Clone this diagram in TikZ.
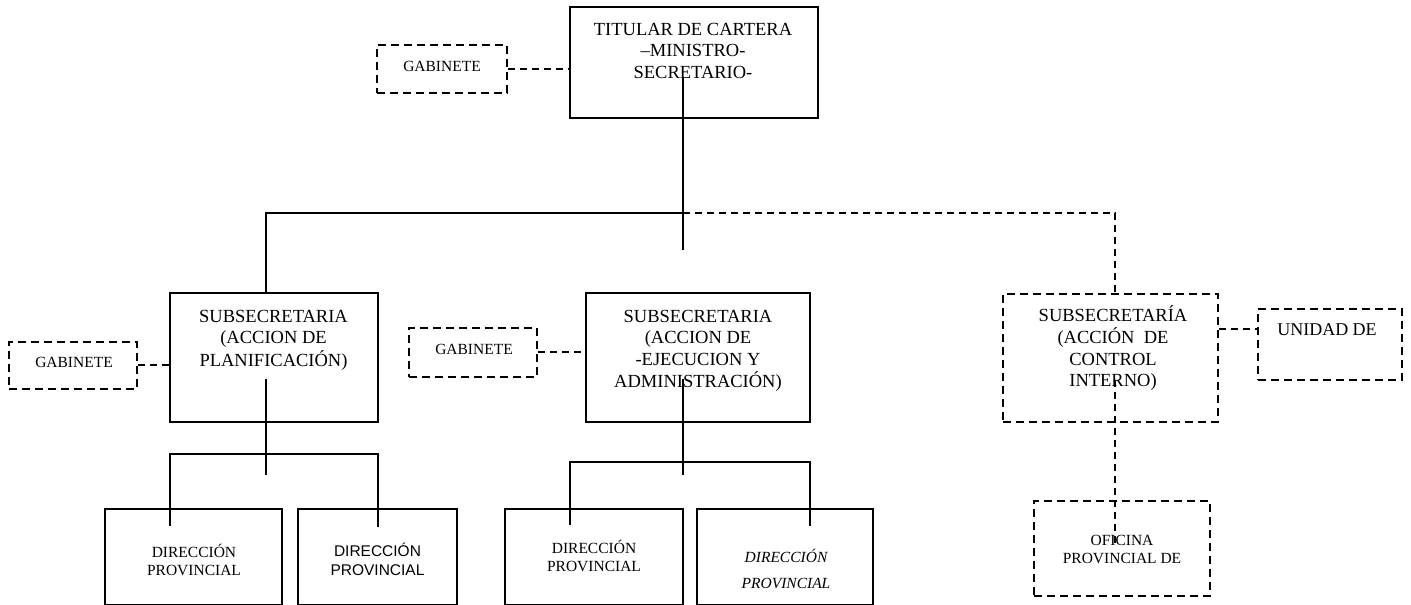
\documentclass[tikz,border=0pt]{standalone}
\usepackage{fontspec}
\setmainfont{Liberation Serif}
\newfontfamily\arialf{Liberation Sans}
\newcommand{\mlines}[1]{\begin{tabular}[t]{@{}c@{}}#1\end{tabular}}
\tikzset{
  boxs/.style={draw, line width=2pt, inner sep=0pt},
  boxd/.style={draw, line width=2pt, dash pattern=on 8pt off 5pt, inner sep=0pt},
  lbl/.style={inner sep=0pt, anchor=base},
  big/.style={font=\fontsize{18.5}{21.7}\selectfont},
  mid/.style={font=\fontsize{15.5}{18}\selectfont},
  conn/.style={line width=2pt},
  dconn/.style={line width=1.6pt, dash pattern=on 7pt off 5pt},
}
\begin{document}
\begin{tikzpicture}[x=1pt,y=-1pt]
\useasboundingbox[fill=white] (0,0) rectangle (1411,605);

% boxes
\node[boxs, minimum width=248pt, minimum height=111pt] (top) at (694,62.5) {};
\node[boxd, minimum width=130pt, minimum height=48pt] (gabT) at (442,69) {};
\node[boxs, minimum width=208pt, minimum height=129pt] (sub1) at (274,357.5) {};
\node[boxd, minimum width=128pt, minimum height=47pt] (gabL) at (73,365) {};
\node[boxs, minimum width=224pt, minimum height=129pt] (sub2) at (698,357.5) {};
\node[boxd, minimum width=128pt, minimum height=49pt] (gabM) at (473,352) {};
\node[boxd, minimum width=215pt, minimum height=128pt] (sub3) at (1110.5,358) {};
\node[boxd, minimum width=144pt, minimum height=71pt] (unid) at (1330,344.5) {};
\node[boxs, minimum width=177pt, minimum height=96pt] (dirA) at (193.5,557) {};
\node[boxs, minimum width=159pt, minimum height=96pt] (dirB) at (377.5,557) {};
\node[boxs, minimum width=178pt, minimum height=96pt] (dirC) at (594,557) {};
\node[boxs, minimum width=176pt, minimum height=96pt] (dirD) at (785,557) {};
\node[boxd, minimum width=176pt, minimum height=95pt] (ofic) at (1122,548.5) {};

% texts
\node[lbl, big] (tTop) at (693,35) {\mlines{TITULAR DE CARTERA\\–MINISTRO-\\SECRETARIO-}};
\node[lbl, mid] (tGabT) at (442,71) {GABINETE};
\node[lbl, big] (tSub1) at (273.5,322) {\mlines{SUBSECRETARIA\\(ACCION DE\\PLANIFICACIÓN)}};
\node[lbl, mid] (tGabL) at (74,367) {GABINETE};
\node[lbl, big] (tSub2) at (698,322) {\mlines{SUBSECRETARIA\\(ACCION DE\\-EJECUCION Y\\ADMINISTRACIÓN)}};
\node[lbl, mid] (tGabM) at (474,354) {GABINETE};
\node[lbl, big] (tSub3) at (1113,321) {\mlines{SUBSECRETARÍA\\(ACCIÓN\ \ DE\\CONTROL\\INTERNO)}};
\node[lbl, font=\fontsize{18}{21}\selectfont] (tUnid) at (1327,335) {UNIDAD DE};
\node[lbl, mid] (tDirA) at (194,557) {\mlines{DIRECCIÓN\\PROVINCIAL}};
\node[lbl, font=\arialf\fontsize{15.5}{19}\selectfont] (tDirB) at (377.5,556) {\mlines{DIRECCIÓN\\PROVINCIAL}};
\node[lbl, mid] (tDirC) at (594,553) {\mlines{DIRECCIÓN\\PROVINCIAL}};
\node[lbl, font=\itshape\fontsize{15.5}{26}\selectfont] (tDirD) at (786,562) {\mlines{DIRECCIÓN\\PROVINCIAL}};
\node[lbl, mid] (tOfic) at (1122,545) {\mlines{OFICINA\\PROVINCIAL DE}};

% coordinates
\coordinate (topIn) at (683,77);
\coordinate (topEnd) at (683,250);
\coordinate (hL) at (266,213);
\coordinate (hM) at (683,213);
\coordinate (hR) at (1115,213);
\coordinate (s1In) at (266,379);
\coordinate (s1End) at (266,475);
\coordinate (bL1) at (170,454);
\coordinate (bL2) at (378,454);
\coordinate (s2In) at (683,379);
\coordinate (s2End) at (683,475);
\coordinate (bM1) at (570,462);
\coordinate (bM2) at (810,462);
\coordinate (s3In) at (1115,380);
\coordinate (ofIn) at (1115,547);
\coordinate (uy) at (0,329);

% connectors
\draw[dconn] (gabT.east) -- (gabT.east -| top.west);
\draw[line width=1.7pt] (topIn) -- (topEnd);
\draw[conn] (hL |- sub1.north) -- (hL) -- (hM);
\draw[dconn] (hM) -- (hR) -- (hR |- sub3.north);
\draw[dconn] (gabL.east) -- (gabL.east -| sub1.west);
\draw[dconn] (gabM.east) -- (gabM.east -| sub2.west);
\draw[dconn] (sub3.east |- uy) -- (unid.west |- uy);
\draw[conn] (s1In) -- (s1End);
\draw[conn] (bL1 |- dirA.north) ++(0,18) -- (bL1) -- (bL2) -- ++(0,73);
\draw[conn] (s2In) -- (s2End);
\draw[conn] (bM1 |- dirC.north) ++(0,17) -- (bM1) -- (bM2) -- ++(0,64);
\draw[dconn] (s3In) -- (ofIn);
\end{tikzpicture}
\end{document}
